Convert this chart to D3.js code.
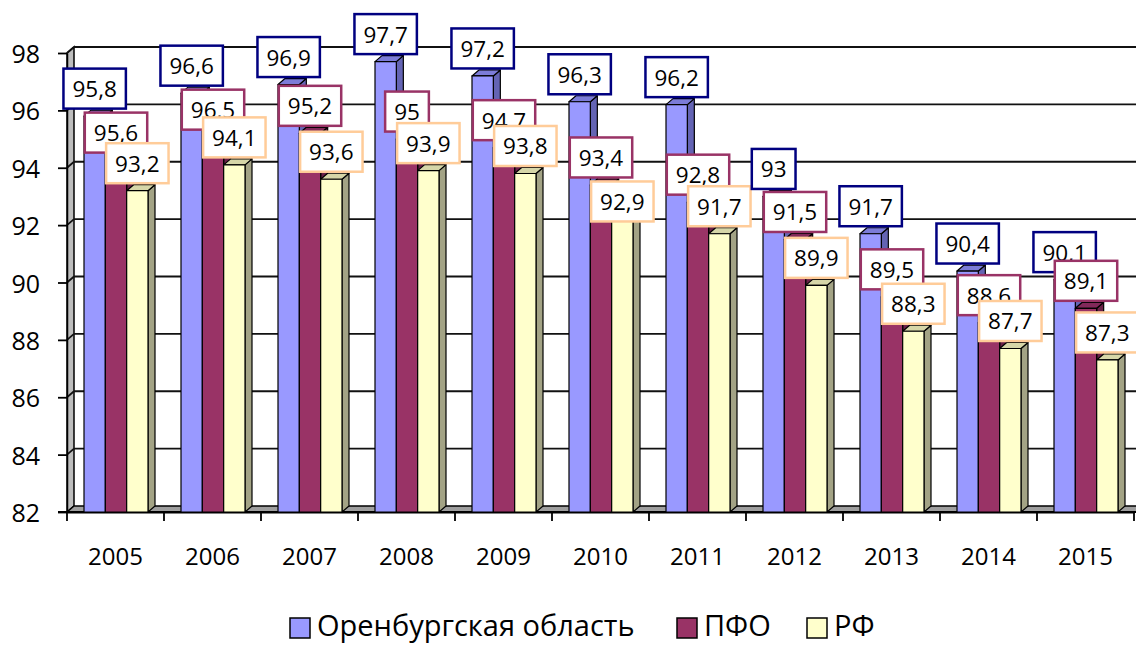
<!DOCTYPE html>
<html><head><meta charset="utf-8">
<script src="https://cdn.jsdelivr.net/npm/d3@7"></script>
<style>
body{margin:0;background:#fff}
svg{display:block}
text{font-family:"Open Sans",sans-serif;fill:#000}
</style>
</head><body>
<svg id="chart" width="1136" height="645"></svg>
<script>
// ---- data ----
const years = ["2005","2006","2007","2008","2009","2010","2011","2012","2013","2014","2015"];
const seriesNames = ["Оренбургская область","ПФО","РФ"];
const orenburg = [95.8,96.6,96.9,97.7,97.2,96.3,96.2,93,91.7,90.4,90.1];
const pfo      = [95.6,96.5,95.2,95,94.7,93.4,92.8,91.5,89.5,88.6,89.1];
const rf       = [93.2,94.1,93.6,93.9,93.8,92.9,91.7,89.9,88.3,87.7,87.3];
const yTicks   = [82,84,86,88,90,92,94,96,98];

// ---- styles ----
const seriesValues = [orenburg, pfo, rf];
const fronts  = ["#9999FF","#993366","#FFFFCC"];
const tops    = ["#7C7CD8","#82295A","#D6D6A8"];
const sides   = ["#6464B4","#6A2148","#A3A385"];
const borders = ["#000080","#993366","#FFCC99"];

const svg = d3.select("#chart");
const W = 1136;
const dx = 7, dy = 6;          // 3D depth offset
const x0 = d3.scaleBand().domain(years).range([67, 67 + 97 * years.length]);
const x1 = d3.scaleBand().domain(seriesNames).range([17, 81]);
const y  = d3.scaleLinear().domain([82, 98]).range([512, 53]);
const left = x0.range()[0];
const base = y(82), topY = y(98);

// left wall
svg.append("polygon")
  .attr("points", [[left, topY],[left+dx, topY-dy],[left+dx, base-dy],[left, base]].join(" "))
  .attr("fill", "#BDBDBD").attr("stroke", "#000").attr("stroke-width", 1.5);
// floor
svg.append("polygon")
  .attr("points", [[left, base],[left+dx, base-dy],[W+5, base-dy],[W+5, base]].join(" "))
  .attr("fill", "#9E9E9E").attr("stroke", "#000").attr("stroke-width", 1.5);

// gridlines (back wall + diagonal on left wall)
const grid = svg.append("g").attr("stroke", "#111").attr("stroke-width", 1.8).attr("fill","none");
yTicks.filter(t => t > 82).forEach(t => {
  grid.append("line").attr("x1", left+dx).attr("x2", W+5).attr("y1", y(t)-dy).attr("y2", y(t)-dy);
  grid.append("line").attr("x1", left).attr("x2", left+dx).attr("y1", y(t)).attr("y2", y(t)-dy);
});

// y axis
const yAxis = svg.append("g").attr("transform", `translate(${left},0)`)
  .call(d3.axisLeft(y).tickValues(yTicks).tickSize(9).tickSizeOuter(0).tickPadding(18).tickFormat(d3.format("d")));
yAxis.selectAll("line").attr("stroke", "#000").attr("stroke-width", 1.8);
yAxis.select(".domain").attr("stroke", "#000").attr("stroke-width", 1.5);
yAxis.selectAll("text").attr("font-size", 25).attr("font-family", "Open Sans").attr("dy", "0.38em");

// x axis: labels at band centers, ticks at band boundaries
const xAxis = svg.append("g").attr("transform", `translate(0,${base})`)
  .call(d3.axisBottom(x0).tickSize(0).tickPadding(36));
xAxis.select(".domain").attr("stroke", "#000").attr("stroke-width", 1.8);
xAxis.selectAll("text").attr("font-size", 24).attr("font-family", "Open Sans");
const bounds = years.map(d => x0(d)).concat([x0.range()[1]]);
svg.append("g").selectAll("line").data(bounds).join("line")
  .attr("x1", d => d).attr("x2", d => d).attr("y1", base).attr("y2", base + 9)
  .attr("stroke", "#000").attr("stroke-width", 1.8);
svg.append("line").attr("x1", left-9).attr("x2", W).attr("y1", base).attr("y2", base)
  .attr("stroke", "#000").attr("stroke-width", 1.8);

// bars
const bars = svg.append("g").attr("stroke", "#000").attr("stroke-width", 1.2).attr("stroke-linejoin","round");
years.forEach((yr, i) => {
  seriesNames.forEach((s, k) => {
    const v = seriesValues[k][i];
    const xa = x0(yr) + x1(s), w = x1.bandwidth(), yt = y(v);
    const g = bars.append("g");
    g.append("polygon").attr("fill", sides[k])
      .attr("points", [[xa+w, yt],[xa+w+dx, yt-dy],[xa+w+dx, base-dy],[xa+w, base]].join(" "));
    g.append("polygon").attr("fill", tops[k])
      .attr("points", [[xa, yt],[xa+dx, yt-dy],[xa+w+dx, yt-dy],[xa+w, yt]].join(" "));
    g.append("rect").attr("fill", fronts[k]).attr("x", xa).attr("y", yt).attr("width", w).attr("height", base - yt);
  });
});

// data labels
const labels = svg.append("g");
const boxH = 40, pad = 9, lift = 27.5;
years.forEach((yr, i) => {
  let prev = null;
  seriesNames.forEach((s, k) => {
    const v = seriesValues[k][i];
    const cx = x0(yr) + x1(s) + x1.bandwidth() / 2;
    let cy = y(v) - lift;
    if (prev) {
      const overlap = (prev.cy + boxH/2) - (cy - boxH/2);
      if (overlap > 20) cy = prev.cy + boxH + 4;
    }
    const g = labels.append("g");
    const rect = g.append("rect").attr("fill", "#fff").attr("stroke", borders[k]).attr("stroke-width", 2.5);
    const t = g.append("text").attr("x", cx).attr("y", cy).attr("text-anchor", "middle")
      .attr("dominant-baseline", "central").attr("font-size", 22.5).text(String(v).replace(".", ","));
    const tw = t.node().getComputedTextLength();
    rect.attr("x", cx - tw/2 - pad).attr("y", cy - boxH/2).attr("width", tw + 2*pad).attr("height", boxH);
    prev = {cy};
  });
});

// legend
const legendX = [290, 677, 807];
const legend = svg.append("g");
seriesNames.forEach((s, k) => {
  const g = legend.append("g").attr("transform", `translate(${legendX[k]},0)`);
  g.append("rect").attr("x", 0).attr("y", 618).attr("width", 20).attr("height", 20)
    .attr("fill", fronts[k]).attr("stroke", "#000").attr("stroke-width", 1.5);
  g.append("text").attr("x", 27).attr("y", 636).attr("font-size", 29).text(s);
});
</script>
</body></html>
